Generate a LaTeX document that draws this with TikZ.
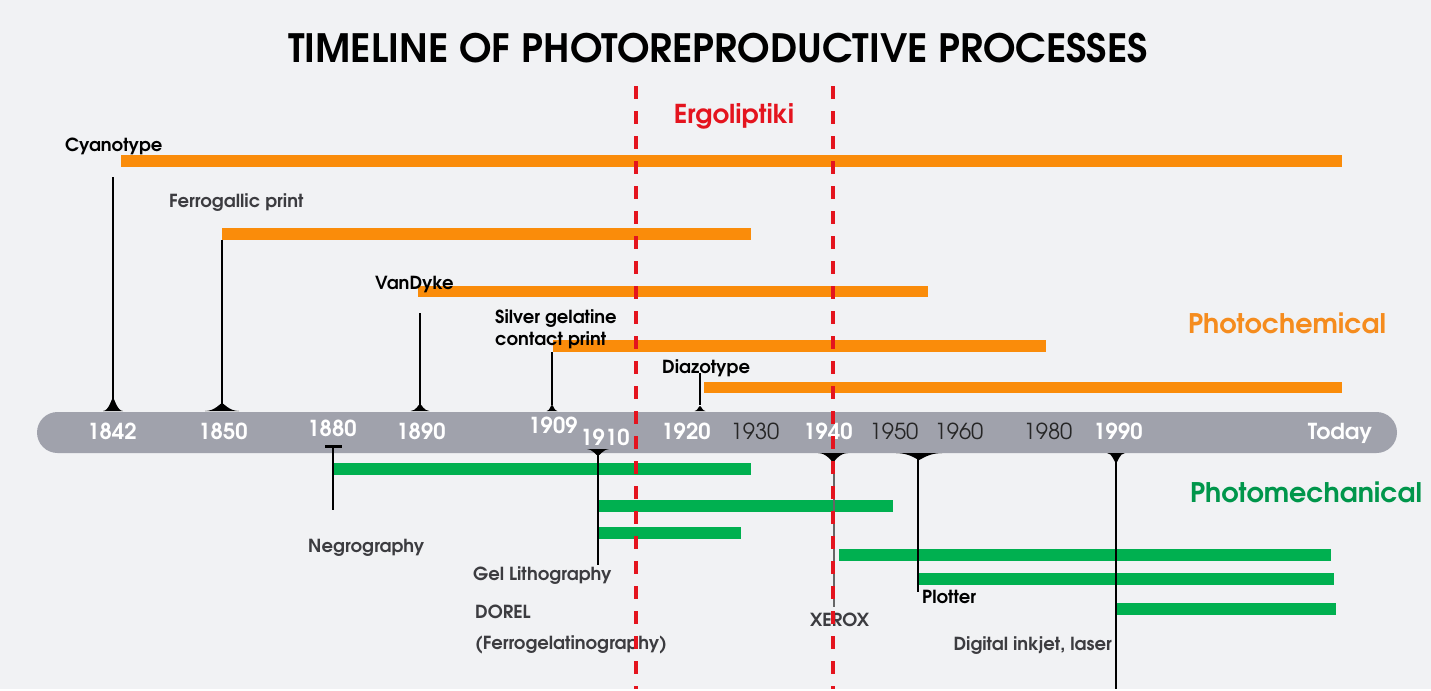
\documentclass[tikz,border=0pt]{standalone}
\usepackage{fontspec}
\setmainfont{TeX Gyre Adventor}
\usetikzlibrary{positioning}

\definecolor{chem}{RGB}{250,140,10}
\definecolor{chemtxt}{RGB}{245,140,30}
\definecolor{mech}{RGB}{0,176,80}
\definecolor{mechtxt}{RGB}{0,150,75}
\definecolor{axisgray}{RGB}{160,162,172}
\definecolor{bggray}{RGB}{241,242,244}
\definecolor{ergored}{RGB}{228,20,30}
\definecolor{labgray}{RGB}{60,60,64}

% markers on the time axis: x, width, height
\newcommand\bellup[3]{\fill ({#1-#2/2},411) .. controls ({#1-#2/5},411) and ({#1-1.5},{411-#3}) .. (#1,{411-#3}) .. controls ({#1+1.5},{411-#3}) and ({#1+#2/5},411) .. ({#1+#2/2},411) -- cycle;}
\newcommand\belldown[3]{\fill ({#1-#2/2},453) .. controls ({#1-#2/5},453) and ({#1-1.5},{453+#3}) .. (#1,{453+#3}) .. controls ({#1+1.5},{453+#3}) and ({#1+#2/5},453) .. ({#1+#2/2},453) -- cycle;}

\begin{document}
\begin{tikzpicture}[x=1pt,y=-1pt]
        \tikzstyle{every node}+=[inner sep=0pt]
        \tikzstyle{lab}=[anchor=base west, font=\bfseries\fontsize{18}{22}\selectfont]
        \tikzstyle{yr}=[anchor=base, text=white, font=\bfseries\fontsize{22}{24}\selectfont]
        \tikzstyle{yrdark}=[anchor=base, text=black!85, font=\fontsize{22}{24}\selectfont]
        \tikzstyle{stem}=[black, line width=1.2pt]
        \tikzstyle{era}=[ergored, line width=3.5pt, dash pattern=on 13pt off 12pt]
        \fill [bggray] (0,0) rectangle (1431,689);
        \node (title) at (718,62) [anchor=base, font=\bfseries\fontsize{39}{44}\selectfont] {TIMELINE OF PHOTOREPRODUCTIVE PROCESSES};
        % time axis
        \fill [axisgray, rounded corners=20.5pt] (37,412) rectangle (1397,453);
        \node [yr] (y1842) at (112,439) {1842};
        \node [yr] (y1850) at (223,439) {1850};
        \node [yr] (y1880) at (332,436) {1880};
        \node [yr] (y1890) at (421,439) {1890};
        \node [yr] (y1909) at (553,433) {1909};
        \node [yr] (y1910) at (605,445) {1910};
        \node [yr] (y1920) at (686,439) {1920};
        \node [yrdark] (y1930) at (755,439) {1930};
        \node [yr] (y1940) at (828,439) {1940};
        \node [yrdark] (y1950) at (894,439) {1950};
        \node [yrdark] (y1960) at (959,439) {1960};
        \node [yrdark] (y1980) at (1048,439) {1980};
        \node [yr] (y1990) at (1118,439) {1990};
        \node [yr] (today) at (1340,439) {Today};
        % photochemical
        \fill [chem] (121,155) rectangle (1342,167);
        \fill [chem] (222,228) rectangle (751,240);
        \fill [chem] (418,286) rectangle (928,297);
        \fill [chem] (553,340) rectangle (1046,352);
        \fill [chem] (704,382) rectangle (1342,393);
        \node [lab] (cyano) at (65,151) {Cyanotype};
        \node [lab, text=labgray] (ferro) at (169,207) {Ferrogallic print};
        \node [lab] (vandyke) at (375,289) {VanDyke};
        \node [lab, align=left] (silver) at (495,345) {Silver gelatine\\contact print};
        \node [lab] (diazo) at (662,373) {Diazotype};
        \coordinate (c1842) at (113,177);
        \coordinate (c1850) at (222,240);
        \coordinate (c1890) at (420,313);
        \coordinate (c1909) at (552,352);
        \coordinate (c1920) at (700,373);
        \coordinate (m1842) at (113,405);
        \coordinate (m1850) at (222,405);
        \coordinate (m1890) at (420,405);
        \coordinate (m1909) at (552,405);
        \coordinate (m1920) at (700,405);
        \draw [stem] (c1842) -- (m1842);
        \draw [stem] (c1850) -- (m1850);
        \draw [stem] (c1890) -- (m1890);
        \draw [stem] (c1909) -- (m1909);
        \draw [stem] (c1920) -- (m1920);
        \bellup{113}{20}{13}
        \bellup{222}{34}{8}
        \bellup{420}{19}{7}
        \bellup{552}{11}{6}
        \bellup{700}{11}{5}
        \node [font=\bfseries\fontsize{27}{30}\selectfont, text=chemtxt, anchor=base] (chemlab) at (1287,333) {Photochemical};
        % photomechanical
        \fill [mech] (333,463) rectangle (751,475);
        \fill [mech] (598,500) rectangle (893,512);
        \fill [mech] (598,527) rectangle (741,539);
        \fill [mech] (839,549) rectangle (1331,561);
        \fill [mech] (918,573) rectangle (1334,585);
        \fill [mech] (1116,603) rectangle (1336,615);
        \coordinate (m1880) at (333,446);
        \coordinate (m1910) at (598,452);
        \coordinate (m1940) at (834,455);
        \coordinate (m1950) at (918,455);
        \coordinate (m1990) at (1116,455);
        \coordinate (c1880) at (333,510);
        \coordinate (c1910) at (598,565);
        \coordinate (c1940) at (834,607);
        \coordinate (c1950) at (918,592);
        \coordinate (c1990) at (1116,689);
        \draw [stem] (m1880) -- (c1880);
        \draw [stem] (m1910) -- (c1910);
        \draw [stem, black!60] (m1940) -- (c1940);
        \draw [stem] (m1950) -- (c1950);
        \draw [stem] (m1990) -- (c1990);
        \fill [black] (325,444.5) rectangle (342,447.5);
        \fill (587,449) .. controls (592,449) and (596,455) .. (598,456) .. controls (600,455) and (604,449) .. (609,449) -- cycle;
        \belldown{833}{30}{9}
        \belldown{919}{46}{7}
        \belldown{1116}{18}{10}
        \node [lab, text=labgray] (negro) at (308,552) {Negrography};
        \node [lab, text=labgray] (gellith) at (473,580) {Gel Lithography};
        \node [lab, text=labgray] (dorel) at (475,618) {DOREL};
        \node [lab, text=labgray] (ferrogel) at (475,649) {(Ferrogelatinography)};
        \node [lab, text=labgray] (xerox) at (810,626) {XEROX};
        \node [lab] (plotter) at (922,603) {Plotter};
        \node [lab, text=labgray, anchor=base east] (digital) at (1112,650) {Digital inkjet, laser};
        \node [font=\bfseries\fontsize{27}{30}\selectfont, text=mechtxt, anchor=base] (mechlab) at (1306,502) {Photomechanical};
        % ergoliptiki period
        \coordinate (e1top) at (636,86);
        \coordinate (e1bot) at (636,689);
        \coordinate (e2top) at (833,86);
        \coordinate (e2bot) at (833,689);
        \draw [era] (e1top) -- (e1bot);
        \draw [era] (e2top) -- (e2bot);
        \node [font=\bfseries\fontsize{26}{30}\selectfont, text=ergored, anchor=base] (ergo) at (734,123) {Ergoliptiki};
        \useasboundingbox (0,0) rectangle (1431,689);
\end{tikzpicture}
\end{document}
